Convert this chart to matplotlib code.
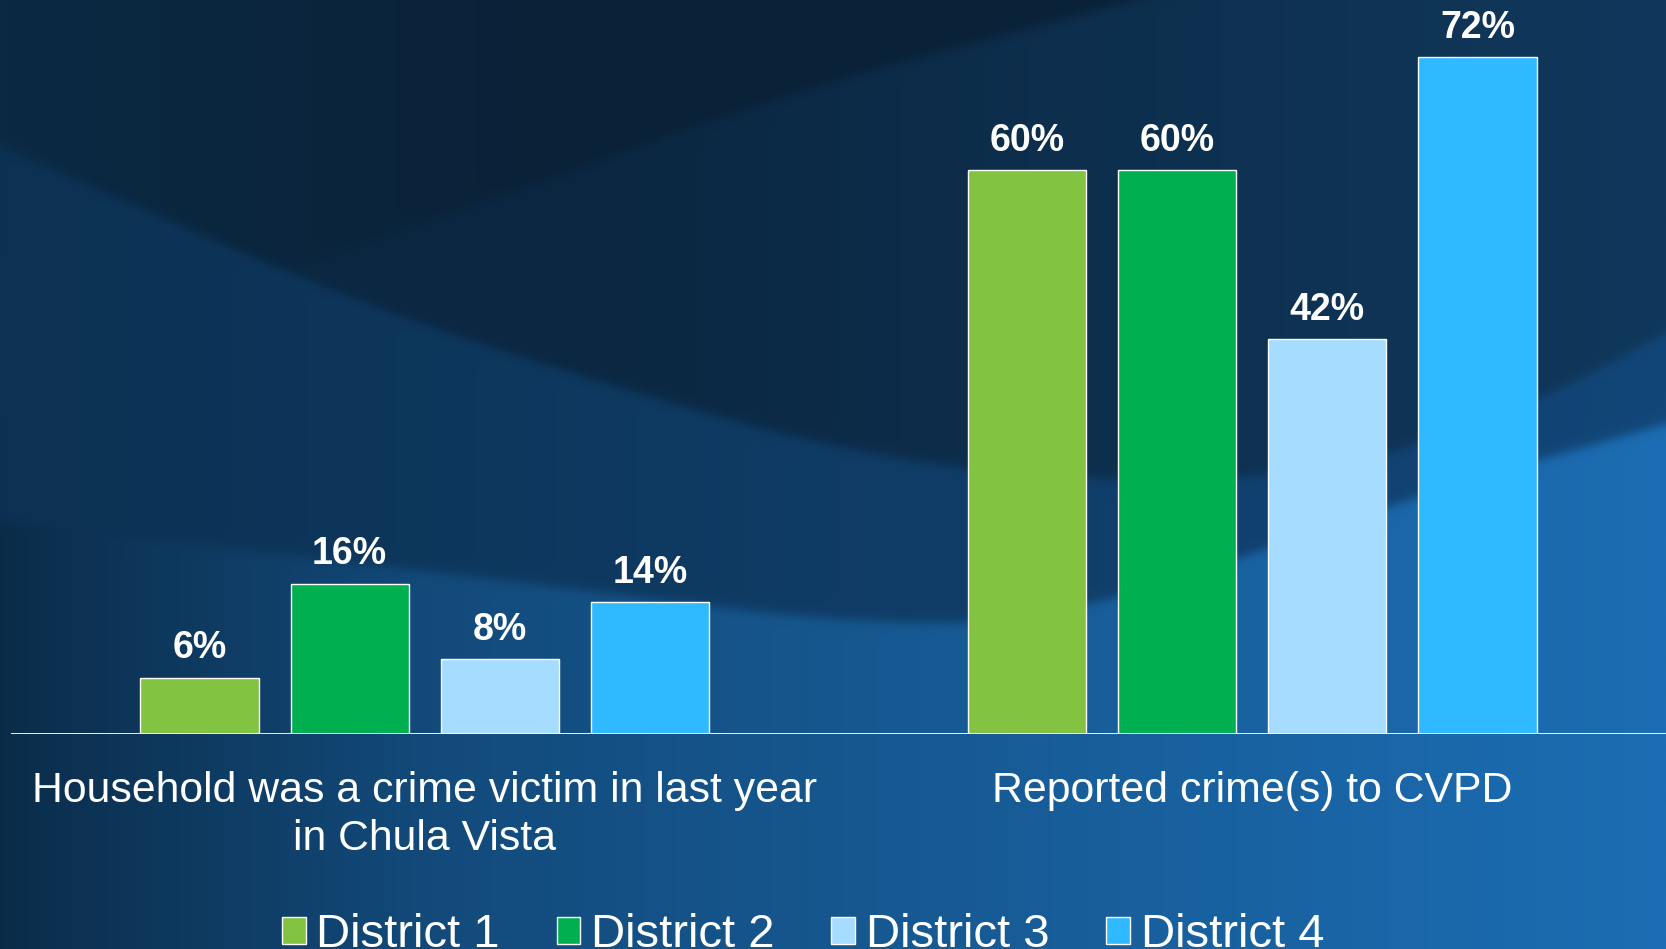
import matplotlib.pyplot as plt
import numpy as np
from matplotlib.colors import to_rgb
from matplotlib.transforms import blended_transform_factory

plt.rcParams['font.family'] = ['Liberation Sans', 'DejaVu Sans']

# data
categories = ['Household was a crime victim in last year\nin Chula Vista',
              'Reported crime(s) to CVPD']
districts = ['District 1', 'District 2', 'District 3', 'District 4']
werte = {
    'District 1': [6, 60],
    'District 2': [16, 60],
    'District 3': [8, 42],
    'District 4': [14, 72],
}
farben = ['#82c341', '#00b050', '#a5dcff', '#2fb9ff']

W, H = 1666, 949
fig = plt.figure(figsize=(W / 100, H / 100), dpi=100)

# hintergrund: dunkelblaue flaeche mit geschwungenen baendern
bg = fig.add_axes([0, 0, 1, 1], zorder=0)
xs = np.linspace(0, W, 834)
X, Y = np.meshgrid(xs, np.linspace(0, H, 475))
u = X / W


def kurve(px, py, n=151):
    # stueckweise linear mit linearer verlaengerung, dann geglaettet
    xe = np.linspace(-W * 0.3, W * 1.3, int(834 * 1.6))
    ye = np.interp(xe, px, py)
    lo = xe < px[0]
    hi = xe > px[-1]
    ye[lo] = py[0] + (xe[lo] - px[0]) * (py[1] - py[0]) / (px[1] - px[0])
    ye[hi] = py[-1] + (xe[hi] - px[-1]) * (py[-1] - py[-2]) / (px[-1] - px[-2])
    k = np.ones(n) / n
    ye = np.convolve(ye, k, mode='same')
    y = np.interp(xs, xe, ye)
    return np.broadcast_to(y, X.shape)


def s(z, w=3.0):
    return 1 / (1 + np.exp(-np.clip(z / w, -50, 50)))


def mix(c1, c2, t):
    t = np.clip(t, 0, 1)[..., None]
    return np.array(to_rgb(c1)) * (1 - t) + np.array(to_rgb(c2)) * t


Ya = kurve([0, 200, 400, 600, 804, 1137, 1666], [370, 300, 230, 160, 87, 0, -150])
Yd = kurve([0, 344, 574, 872, 1130, 1280, 1484, 1666],
           [145, 298, 375, 460, 485, 480, 433, 333])
Yl = kurve([0, 459, 900, 1070, 1400, 1666], [522, 575, 629, 620, 500, 424])

A = mix('#0b2943', '#0a2238', u * 3)
B = mix('#0b2741', '#10385c', (u - 0.35) / 0.65)
C = mix('#0c3152', '#124678', u)
D = mix('#0d365a', '#1c6db3', u ** 0.75)
D = D * (1 - 0.2 * np.clip(1 - u * 4, 0, 1)[..., None])

ma = s(Y - Ya)[..., None]
m1 = s(Y - Yd)[..., None]
m2 = s(Y - Yl)[..., None]
oben = A * (1 - ma) + B * ma
img = oben * (1 - m1) + m1 * (C * (1 - m2) + D * m2)
bg.imshow(np.clip(img, 0, 1), extent=(0, 1, 0, 1), aspect='auto', origin='upper')
bg.axis('off')

ax = fig.add_axes([0.0066, 0.2266, 0.9934, 0.7734], zorder=1)
ax.patch.set_alpha(0)

x = np.arange(len(categories))
slot = 0.1815
breite = 0.1428
for i, d in enumerate(districts):
    pos = x + (i - 1.5) * slot
    bars = ax.bar(pos, werte[d], breite, color=farben[i], edgecolor='white',
                  linewidth=1, label=d)
    for rect, val in zip(bars, werte[d]):
        ax.annotate(f'{val}%', (rect.get_x() + rect.get_width() / 2, val),
                    xytext=(0, 21), textcoords='offset points',
                    ha='center', va='center', fontsize=27,
                    fontweight='bold', color='white')

ax.set_xlim(-0.5, 1.5)
ax.set_ylim(0, 78.1)
ax.axhline(0, color='white', linewidth=2)
for sp in ax.spines.values():
    sp.set_visible(False)
ax.set_xticks([])
ax.set_yticks([])

trans = blended_transform_factory(ax.transData, fig.transFigure)
for xi, cat in zip(x, categories):
    ax.text(xi, 1 - 771 / H, cat, transform=trans, ha='center', va='top',
            fontsize=30.8, color='white', linespacing=1.25)

fig.legend(loc='center', bbox_to_anchor=(0.482, 13.7 / H), ncol=4,
           frameon=False, fontsize=34, labelcolor='white',
           handlelength=0.5, handleheight=0.5, handletextpad=0.23,
           columnspacing=1.2, borderpad=0)

fig.savefig('out.png', dpi=100)
